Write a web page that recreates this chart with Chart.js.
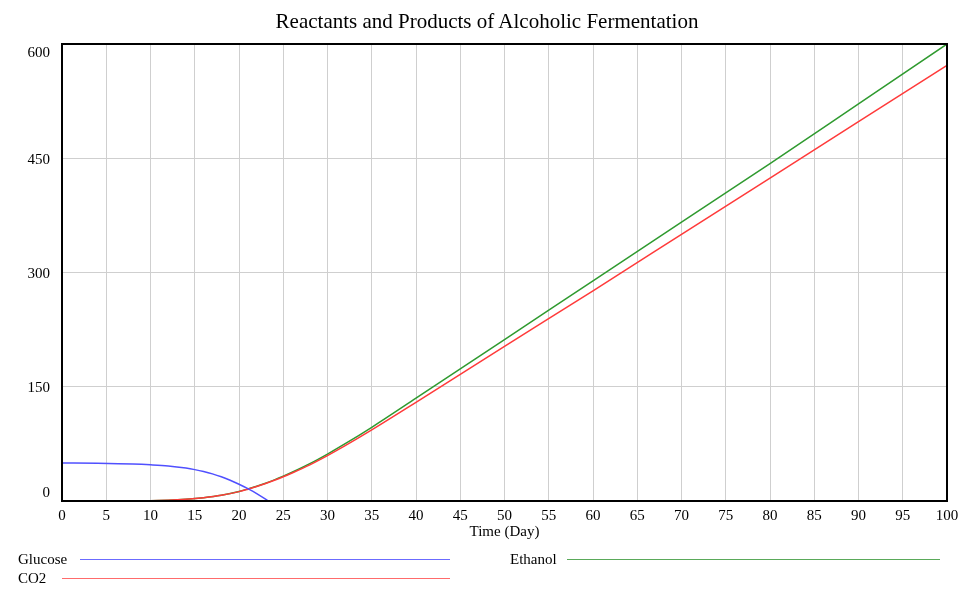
<!DOCTYPE html>
<html>
<head>
<meta charset="utf-8">
<script src="https://cdn.jsdelivr.net/npm/chart.js"></script>
<style>
  body { margin: 0; background: #fff; }
  #wrap { position: relative; width: 973px; height: 591px; font-family: "Liberation Serif", serif; }
  #title { position: absolute; left: 0; top: 9px; width: 974px; text-align: center; font-size: 21px; line-height: 24px; color: #000; }
  .lbl { position: absolute; font-size: 15px; line-height: 16px; color: #000; }
  .key { position: absolute; height: 0; border-top: 1.5px solid; }
</style>
</head>
<body>
<div id="wrap">
  <canvas id="chart" width="973" height="591"></canvas>
  <div id="title">Reactants and Products of Alcoholic Fermentation</div>
  <span class="lbl" style="left:18px; top:551px;">Glucose</span>
  <div class="key" style="left:80px; top:559px; width:370px; border-color:#6b6bff;"></div>
  <span class="lbl" style="left:18px; top:570px;">CO2</span>
  <div class="key" style="left:62px; top:578px; width:388px; border-color:#ff6b6b;"></div>
  <span class="lbl" style="left:510px; top:551px;">Ethanol</span>
  <div class="key" style="left:567px; top:559px; width:373px; border-color:#5aaa5a;"></div>
</div>
<script>
// Values
const glucoseDays = [0, 4, 8, 10, 12, 14, 15, 16, 17, 18, 19, 20, 21, 22, 23, 23.3];
const glucose = [50, 49.5, 48.5, 47.5, 46, 43.2, 41.2, 38.7, 35.6, 31.8, 27.3, 22, 16.2, 9.8, 2.4, 0];

const productDays = [0, 5, 10, 12, 14, 16, 18, 20, 21, 22, 23, 24, 25, 26, 28, 30, 32, 35, 40, 50, 60, 70, 80, 90, 100];
const ethanol = [0, 0, 0.3, 1, 2.3, 4.4, 7.6, 12.5, 15.8, 19.4, 23.4, 27.8, 32.6, 37.8, 49, 61.6, 75.2, 96.8, 135, 212, 289, 366, 443, 521.5, 600];
const co2 = [0, 0, 0.3, 1, 2.3, 4.4, 7.5, 12.3, 15.5, 19, 22.9, 27.2, 31.8, 36.8, 47.5, 59.6, 72.6, 93.3, 129.5, 203, 276, 350, 424, 498, 572];

const yTicks = [0, 150, 300, 450, 600];

const pts = (xs, ys) => xs.map((x, i) => ({ x: x, y: ys[i] }));
const serif = 'Liberation Serif';

// black frame round the plot, plus the y labels (0 sits above the axis, 600 below the top)
const frame = {
  id: 'frame',
  afterDatasetsDraw(chart) {
    const a = chart.chartArea;
    const ctx = chart.ctx;
    ctx.save();
    ctx.strokeStyle = '#000';
    ctx.lineWidth = 2;
    ctx.strokeRect(a.left, a.top, a.right - a.left, a.bottom - a.top);

    const y = chart.scales.y;
    ctx.fillStyle = '#000';
    ctx.font = '15px "Liberation Serif"';
    ctx.textAlign = 'right';
    ctx.textBaseline = 'middle';
    yTicks.forEach(v => {
      let py = y.getPixelForValue(v) + 1.5;
      if (v === y.min) py -= 9;
      if (v === y.max) py += 8;
      ctx.fillText(String(v), a.left - 12, py);
    });
    ctx.restore();
  }
};

new Chart(document.getElementById('chart'), {
  type: 'line',
  data: {
    datasets: [
      { label: 'Glucose', data: pts(glucoseDays, glucose), borderColor: '#5050ff' },
      { label: 'CO2', data: pts(productDays, co2), borderColor: '#ff3a3a' },
      { label: 'Ethanol', data: pts(productDays, ethanol), borderColor: '#2f9a2f' }
    ]
  },
  options: {
    responsive: false,
    animation: false,
    layout: { padding: { left: 0, right: 26, top: 44, bottom: 50 } },
    elements: {
      point: { radius: 0 },
      line: { borderWidth: 1.5, cubicInterpolationMode: 'monotone' }
    },
    plugins: {
      legend: { display: false },
      tooltip: { enabled: false },
      title: { display: false }
    },
    scales: {
      x: {
        type: 'linear',
        min: 0,
        max: 100,
        grid: { color: '#cfcfcf', drawTicks: false },
        border: { display: false },
        ticks: { stepSize: 5, color: '#000', padding: 6, font: { family: serif, size: 15 } },
        title: { display: true, text: 'Time (Day)', color: '#000', font: { family: serif, size: 15 }, padding: 0 },
        afterFit(scale) { scale.height = 40; }
      },
      y: {
        min: 0,
        max: 600,
        grid: { color: '#cfcfcf', drawTicks: false },
        border: { display: false },
        afterBuildTicks(scale) { scale.ticks = yTicks.map(v => ({ value: v })); },
        ticks: { display: false },
        afterFit(scale) { scale.width = 62; }
      }
    }
  },
  plugins: [frame]
});
</script>
</body>
</html>
